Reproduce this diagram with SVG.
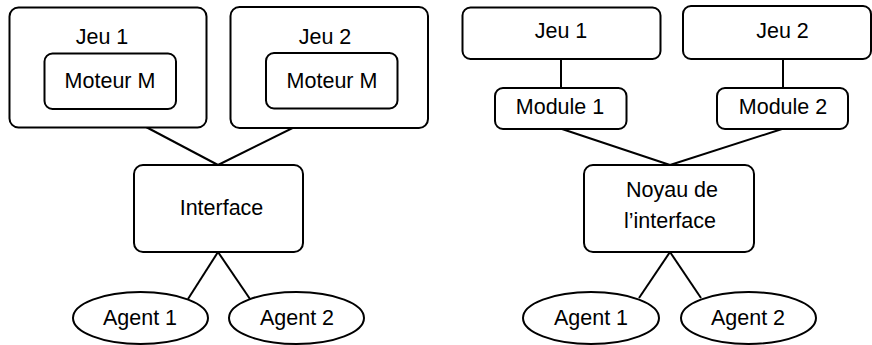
<svg xmlns="http://www.w3.org/2000/svg" width="872" height="345" viewBox="0 0 872 345">
  <style>
    .box { fill: #ffffff; stroke: #000000; stroke-width: 2; }
    .link { stroke: #000000; stroke-width: 2; fill: none; }
    text { font-family: "Liberation Sans", Arial, sans-serif; font-size: 21.5px; fill: #000000; text-anchor: middle; }
  </style>
  <rect width="872" height="345" fill="#ffffff"/>

  <!-- connectors -->
  <g id="connectors">
    <line class="link" x1="112" y1="109" x2="218" y2="165"/>
    <line class="link" x1="332" y1="108.5" x2="218" y2="165"/>
    <line class="link" x1="218" y1="252" x2="188" y2="299"/>
    <line class="link" x1="218" y1="252" x2="250" y2="299"/>
    <line class="link" x1="561" y1="59" x2="561" y2="88"/>
    <line class="link" x1="783" y1="59" x2="783" y2="88"/>
    <line class="link" x1="562" y1="129" x2="670" y2="165"/>
    <line class="link" x1="782" y1="129" x2="670" y2="165"/>
    <line class="link" x1="670" y1="252" x2="639" y2="298"/>
    <line class="link" x1="670" y1="252" x2="701" y2="298"/>
  </g>

  <!-- left architecture -->
  <g id="jeu1-left">
    <rect class="box" x="9.5" y="7.5" width="197" height="120" rx="9"/>
    <text x="102" y="44">Jeu 1</text>
  </g>
  <g id="moteur1">
    <rect class="box" x="44.5" y="53.5" width="131.5" height="55.5" rx="8"/>
    <text x="110" y="87.5">Moteur M</text>
  </g>
  <g id="jeu2-left">
    <rect class="box" x="230.5" y="7" width="197.5" height="121" rx="9"/>
    <text x="325" y="44">Jeu 2</text>
  </g>
  <g id="moteur2">
    <rect class="box" x="266" y="53" width="131.5" height="55.5" rx="8"/>
    <text x="332" y="87.5">Moteur M</text>
  </g>
  <g id="interface">
    <rect class="box" x="134" y="165" width="169" height="87" rx="9"/>
    <text x="221.5" y="214.5">Interface</text>
  </g>
  <g id="agent1-left">
    <ellipse class="box" cx="140.5" cy="318" rx="67.5" ry="26"/>
    <text x="140" y="325">Agent 1</text>
  </g>
  <g id="agent2-left">
    <ellipse class="box" cx="296.5" cy="318" rx="67.5" ry="26"/>
    <text x="297" y="325">Agent 2</text>
  </g>

  <!-- right architecture -->
  <g id="jeu1-right">
    <rect class="box" x="462.5" y="7.5" width="198" height="51.5" rx="8"/>
    <text x="561" y="38">Jeu 1</text>
  </g>
  <g id="jeu2-right">
    <rect class="box" x="683" y="6" width="188" height="53" rx="8"/>
    <text x="782.5" y="38">Jeu 2</text>
  </g>
  <g id="module1">
    <rect class="box" x="495" y="88" width="131.5" height="41" rx="8"/>
    <text x="560" y="113.5">Module 1</text>
  </g>
  <g id="module2">
    <rect class="box" x="717" y="88" width="131" height="41" rx="8"/>
    <text x="783" y="113.5">Module 2</text>
  </g>
  <g id="noyau">
    <rect class="box" x="584" y="165" width="170" height="87" rx="9"/>
    <text x="672" y="197">Noyau de</text>
    <text x="670" y="228">l’interface</text>
  </g>
  <g id="agent1-right">
    <ellipse class="box" cx="591" cy="318" rx="68" ry="26"/>
    <text x="591" y="325">Agent 1</text>
  </g>
  <g id="agent2-right">
    <ellipse class="box" cx="748.5" cy="318" rx="67.5" ry="26"/>
    <text x="748" y="325">Agent 2</text>
  </g>
</svg>
